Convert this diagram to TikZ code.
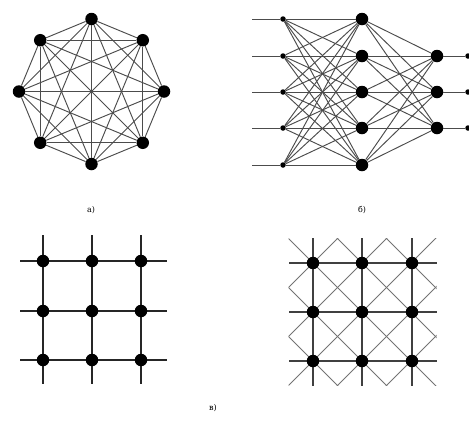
\documentclass[tikz,border=0pt]{standalone}
\usepackage{fontspec}
\setmainfont{DejaVu Serif}
\begin{document}
\begin{tikzpicture}[x=1pt,y=-1pt,
  big/.style={circle,fill=black,inner sep=0pt,minimum size=12.5pt},
  small/.style={circle,fill=black,inner sep=0pt,minimum size=5.5pt},
  edge/.style={draw=black!70,line width=0.95pt},
  gridline/.style={draw=black!85,line width=1.7pt},
  diagline/.style={draw=black!55,line width=0.9pt},
  straight/.style={draw=black!75,line width=1.1pt},
  lab/.style={font=\fontsize{8}{9}\selectfont,inner sep=0pt}]
\useasboundingbox (0,0) rectangle (469,421);
% ---- a) complete graph K8
\foreach \k/\ang in {1/90,2/45,3/0,4/-45,5/-90,6/-135,7/180,8/135}
  \node[big] (a\k) at ({91.5+72.5*cos(\ang)},{91.5-72.5*sin(\ang)}) {};
\foreach \i in {1,...,7}{
  \pgfmathtruncatemacro\s{\i+1}
  \foreach \j in {\s,...,8} \draw[edge] (a\i) -- (a\j);
}
% ---- b) layered network
\foreach \k/\y in {1/19,2/56,3/92,4/128,5/165}{
  \coordinate (s\k) at (252,\y);
  \node[small] (i\k) at (283,\y) {};
  \node[big] (h\k) at (362,\y) {};
  \draw[edge] (s\k) -- (i\k);
}
\foreach \k/\y in {1/56,2/92,3/128}{
  \node[big] (o\k) at (437,\y) {};
  \node[small] (e\k) at (468,\y) {};
  \draw[edge] (o\k) -- (e\k);
}
\foreach \i in {1,...,5}{
  \foreach \j in {1,...,5} \draw[edge] (i\i) -- (h\j);
  \foreach \j in {1,2,3} \draw[edge] (h\i) -- (o\j);
}
% ---- c) square grid
\foreach \r/\y in {1/261,2/311,3/360}{
  \coordinate (cl\r) at (20,\y); \coordinate (cr\r) at (167,\y);
  \draw[gridline] (cl\r) -- (cr\r);
}
\foreach \c/\x in {1/43,2/92,3/141}{
  \coordinate (ct\c) at (\x,235); \coordinate (cb\c) at (\x,384);
  \draw[gridline] (ct\c) -- (cb\c);
}
\foreach \r/\y in {1/261,2/311,3/360}
  \foreach \c/\x in {1/43,2/92,3/141}
    \node[big] (c\r\c) at (\x,\y) {};
% ---- d) grid with diagonals
\begin{scope}
  \clip (288.5,238.5) rectangle (436.5,385.5);
  \foreach \k in {-2,...,2}
    \draw[diagline] ({313+49*\k-200},63) -- ({313+49*\k+200},463);
  \foreach \k in {0,...,4}
    \draw[diagline] ({313+49*\k+200},63) -- ({313+49*\k-200},463);
\end{scope}
\foreach \r/\y in {1/263,2/312,3/361}{
  \coordinate (dl\r) at (289,\y); \coordinate (dr\r) at (437,\y);
  \draw[straight] (dl\r) -- (dr\r);
}
\foreach \c/\x in {1/313,2/362,3/412}{
  \coordinate (dt\c) at (\x,238); \coordinate (db\c) at (\x,386);
  \draw[straight] (dt\c) -- (db\c);
}
\foreach \r/\y in {1/263,2/312,3/361}
  \foreach \c/\x in {1/313,2/362,3/412}
    \node[big] (d\r\c) at (\x,\y) {};
% ---- labels
\node[lab] (la) at (91,210) {а)};
\node[lab] (lb) at (362,210) {б)};
\node[lab] (lc) at (213,408) {в)};
\end{tikzpicture}
\end{document}
